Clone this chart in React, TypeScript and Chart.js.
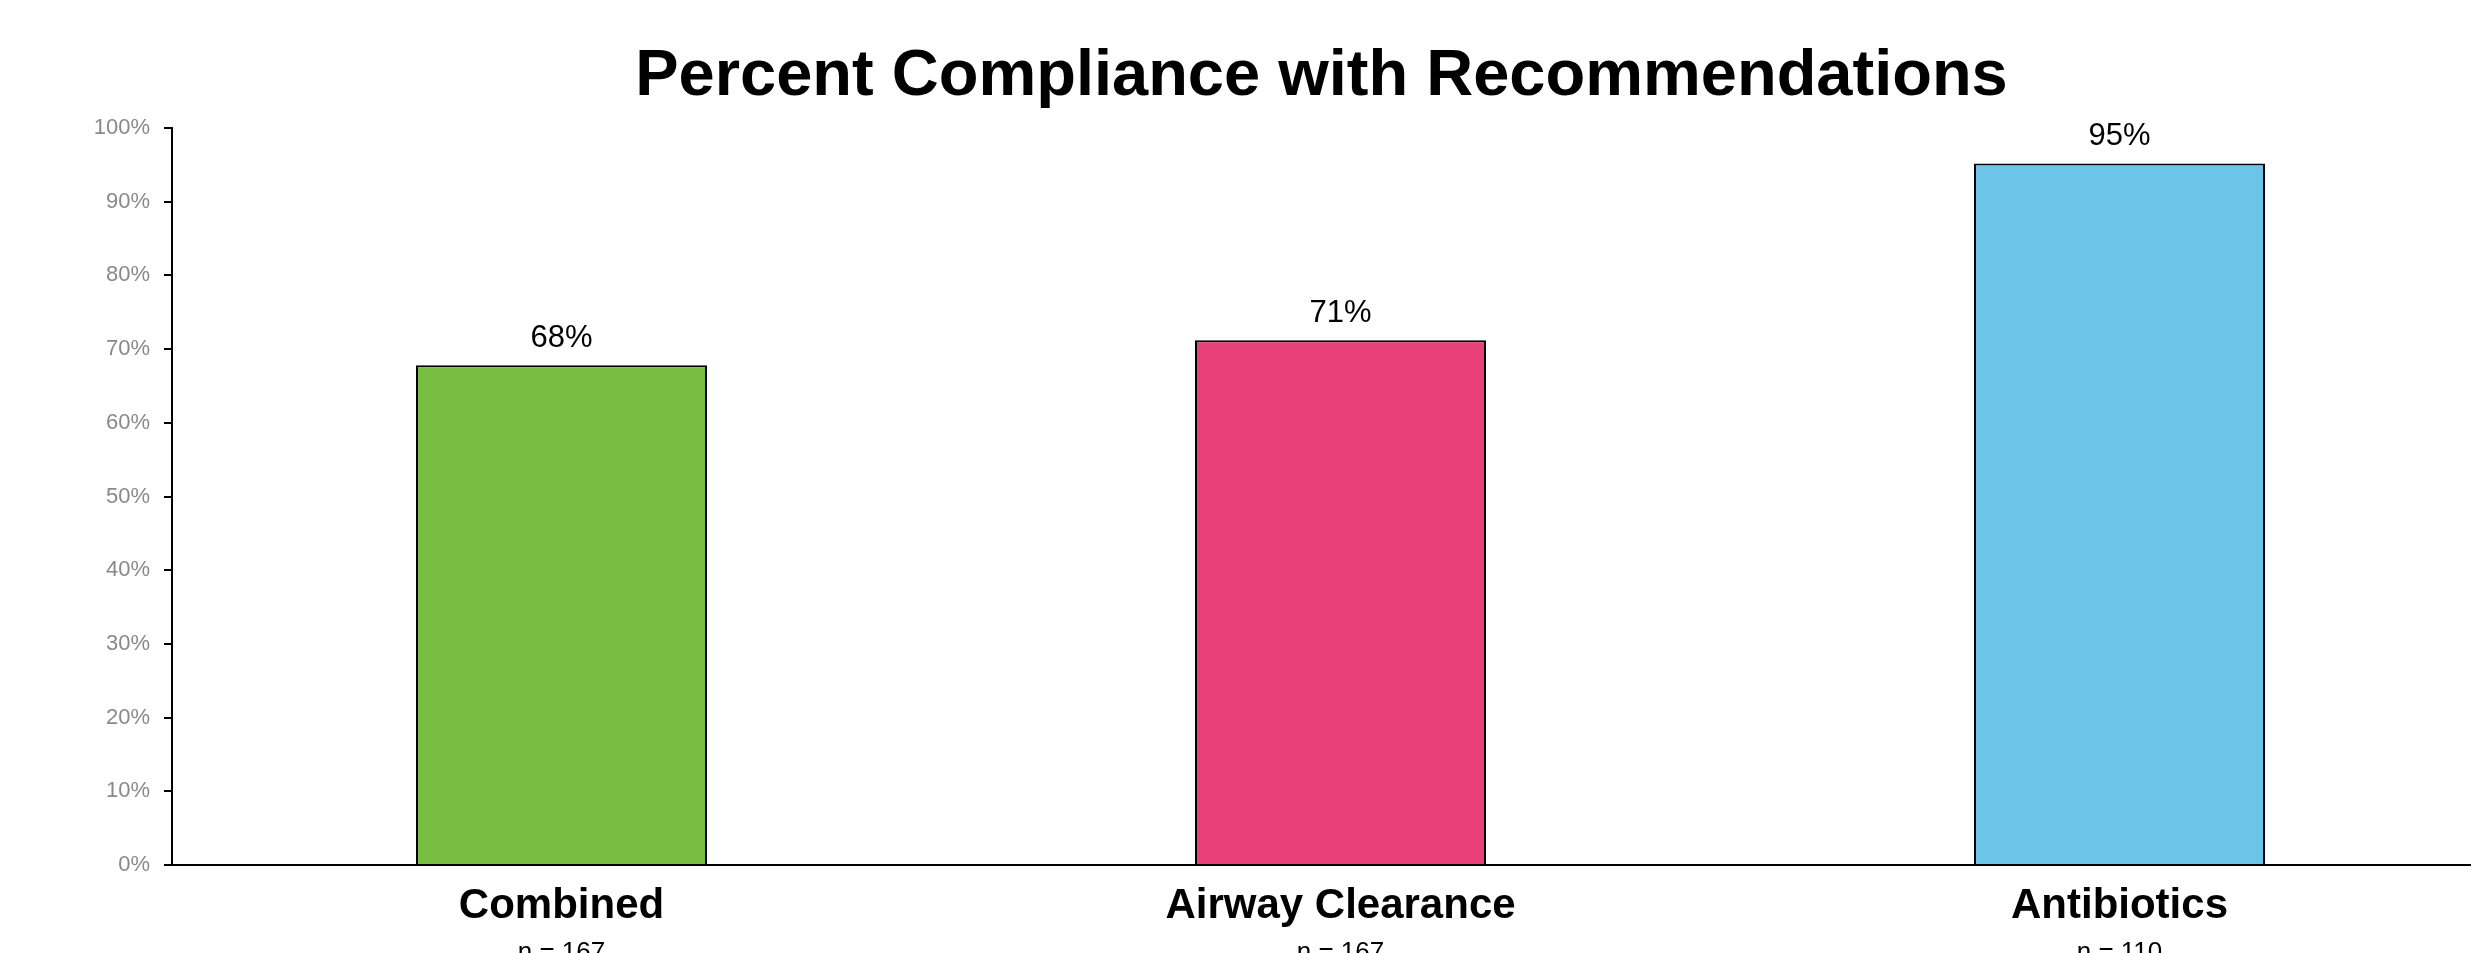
import React, { useEffect, useRef } from "react";
import { Chart, registerables } from "chart.js";

Chart.register(...registerables);

const categories = ["Combined", "Airway Clearance", "Antibiotics"];
const sampleSizes = ["n = 167", "n = 167", "n = 110"];
const compliance = [67.8, 71.2, 95.2];
const barColors = ["#77BE43", "#E8417A", "#6CC5E9"];
const yTicks = [0, 10, 20, 30, 40, 50, 60, 70, 80, 90, 100];
const chartTitle = "Percent Compliance with Recommendations";

const FONT = "'Liberation Sans', Arial, Helvetica, sans-serif";

const valueLabels = {
  id: "valueLabels",
  afterDatasetsDraw(chart: any) {
    const ctx = chart.ctx;
    const meta = chart.getDatasetMeta(0);
    ctx.save();
    ctx.font = `31px ${FONT}`;
    ctx.fillStyle = "#000";
    ctx.textAlign = "center";
    ctx.textBaseline = "alphabetic";
    meta.data.forEach((bar: any, i: number) => {
      ctx.fillText(`${Math.round(compliance[i])}%`, bar.x, bar.y - 18);
    });
    ctx.restore();
  },
};

export default function App() {
  const ref = useRef<HTMLCanvasElement>(null);

  useEffect(() => {
    if (!ref.current) return;
    const W = 2471;
    const perUnit = 779;
    const xMin = -0.5;
    const xMax = xMin + (W - 172) / perUnit;
    const tickBuilder = (s: any) => {
      s.ticks = categories.map((_, i) => ({ value: i }));
    };
    const chart = new Chart(ref.current, {
      type: "bar",
      data: {
        datasets: [
          {
            data: compliance.map((v, i) => ({ x: i, y: v })),
            backgroundColor: barColors,
            borderColor: "#000",
            borderWidth: 2,
            categoryPercentage: 1,
            barPercentage: 0.3736,
          },
        ],
      },
      options: {
        animation: false,
        responsive: false,
        devicePixelRatio: 1,
        layout: { padding: 0 },
        plugins: {
          legend: { display: false },
          tooltip: { enabled: false },
          title: {
            display: true,
            text: chartTitle,
            color: "#000",
            fullSize: false,
            font: { family: FONT, size: 65, weight: "bold", lineHeight: 1.2 },
            padding: { top: 38, bottom: 12 },
          },
        },
        scales: {
          x: {
            type: "linear",
            position: "bottom",
            weight: 1,
            min: xMin,
            max: xMax,
            offset: false,
            afterBuildTicks: tickBuilder,
            afterFit: (s: any) => {
              s.height = 70;
            },
            grid: { display: false, drawTicks: false, offset: false },
            border: { display: true, color: "#000", width: 2 },
            ticks: {
              autoSkip: false,
              maxRotation: 0,
              padding: 16,
              color: "#000",
              font: { family: FONT, size: 42, weight: "bold" },
              callback: (v: any) => categories[v] ?? "",
            },
          },
          x2: {
            type: "linear",
            position: "bottom",
            axis: "x",
            weight: 2,
            min: xMin,
            max: xMax,
            offset: false,
            afterBuildTicks: tickBuilder,
            afterFit: (s: any) => {
              s.height = 18;
            },
            grid: { display: false, drawTicks: false },
            border: { display: false },
            ticks: {
              autoSkip: false,
              maxRotation: 0,
              padding: 2,
              color: "#000",
              font: { family: FONT, size: 26 },
              callback: (v: any) => sampleSizes[v] ?? "",
            },
          },
          y: {
            min: 0,
            max: 100,
            afterBuildTicks: (s: any) => {
              s.ticks = yTicks.map((v) => ({ value: v }));
            },
            afterFit: (s: any) => {
              s.width = 172;
            },
            grid: {
              drawOnChartArea: false,
              drawTicks: true,
              tickLength: 8,
              color: "#000",
              lineWidth: 2,
            },
            border: { display: true, color: "#000", width: 2 },
            ticks: {
              padding: 14,
              color: "#898989",
              font: { family: FONT, size: 22 },
              callback: (v: any) => `${v}%`,
            },
          },
        },
      },
      plugins: [valueLabels],
    });
    return () => chart.destroy();
  }, []);

  return (
    <div
      style={{
        position: "absolute",
        left: 0,
        top: 0,
        width: 2471,
        height: 953,
        overflow: "hidden",
        background: "#fff",
      }}
    >
      <canvas ref={ref} width={2471} height={953} style={{ display: "block" }} />
    </div>
  );
}
